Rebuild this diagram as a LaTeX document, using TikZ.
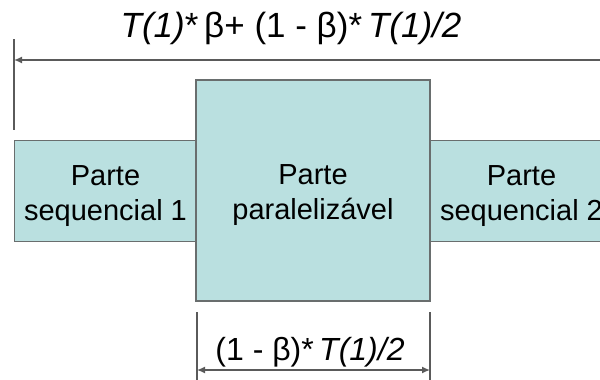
\documentclass[tikz,border=0pt]{standalone}
\usepackage{fontspec}
\setmainfont{Liberation Sans}
\usetikzlibrary{arrows.meta}
\definecolor{partfill}{RGB}{186,224,224}
\definecolor{partedge}{RGB}{105,110,110}
\definecolor{dimline}{RGB}{90,90,90}
\tikzset{
  part/.style={draw=partedge, line width=0.8pt, fill=partfill, align=center,
    inner sep=0pt, font=\fontsize{14.5}{17.5}\selectfont},
  dimtick/.style={draw=dimline, line width=0.7pt},
  dimarrow/.style={draw=dimline, line width=0.7pt, arrows={-Latex[length=4pt,width=3.5pt]}},
  dimtext/.style={anchor=base, inner sep=0pt}
}
\newcommand{\tone}{\textit{T(1)}}
\newcommand{\lowstrut}{\rule{0pt}{14.6pt}}

\begin{document}
\begin{tikzpicture}[x=0.5pt,y=-0.5pt]
  \useasboundingbox (0,0) rectangle (600,380);
  \clip (0,0) rectangle (600,380);
  % the three parts
  \node[part, minimum width=91pt, minimum height=50.5pt] (seq1) at (105.5,191) {\lowstrut Parte\\sequencial 1};
  \node[part, minimum width=91.5pt, minimum height=50.5pt] (seq2) at (521.5,191) {\lowstrut Parte\\sequencial 2};
  \node[part, minimum width=117pt, minimum height=110.5pt] (par) at (313,190.5) {\lowstrut Parte\\paralelizável};
  % total time
  \coordinate (totA) at (14,39);
  \coordinate (totB) at (14,130);
  \coordinate (totL) at (14,60);
  \coordinate (totR) at (600,60);
  \draw[dimtick] (totA) -- (totB);
  \draw[dimarrow] (totR) -- (totL);
  \node[dimtext, font=\fontsize{17.5}{21}\selectfont] (tot) at (291,37.3)
    {\tone*\,β+ (1 - β)*\,\textit{T(1)/2}};
  % parallel time
  \coordinate (parA) at (197,312);
  \coordinate (parB) at (197,380);
  \coordinate (parC) at (430,312);
  \coordinate (parD) at (430,380);
  \coordinate (parL) at (197,370);
  \coordinate (parR) at (430,370);
  \draw[dimtick] (parA) -- (parB);
  \draw[dimtick] (parC) -- (parD);
  \draw[dimarrow, arrows={Latex[length=4pt,width=3.5pt]-Latex[length=4pt,width=3.5pt]}] (parL) -- (parR);
  \node[dimtext, font=\fontsize{16}{19}\selectfont] (partime) at (310,360)
    {(1 - β)*\,\textit{T(1)/2}};
\end{tikzpicture}
\end{document}
